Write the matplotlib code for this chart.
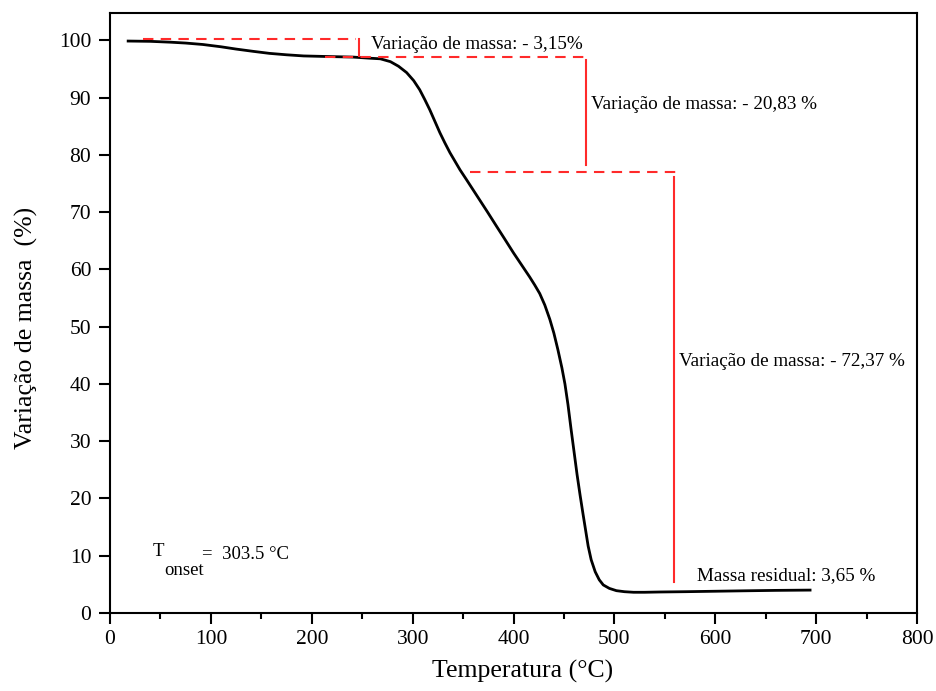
import numpy as np
import matplotlib
matplotlib.use('Agg')
import matplotlib.pyplot as plt

# TGA curve
temp = [18, 40, 60, 75, 92, 110, 125, 142, 158, 175, 192, 215, 241, 258, 268,
        278, 286, 294, 301, 307, 312, 317, 322, 327, 332, 337, 342, 347, 353,
        360, 367, 374, 383, 391, 400, 408, 416, 421, 426, 431, 436, 440, 444,
        448, 451, 454, 457, 460, 463, 466, 469, 472, 474, 477, 481, 485, 489,
        495, 502, 510, 519, 530, 545, 570, 600, 630, 660, 694]
mass = [99.9, 99.85, 99.7, 99.55, 99.3, 98.9, 98.5, 98.1, 97.75, 97.5, 97.3,
        97.2, 97.1, 96.9, 96.8, 96.3, 95.5, 94.4, 93.0, 91.4, 89.7, 87.9, 85.9,
        83.9, 82.1, 80.4, 78.9, 77.4, 75.8, 73.9, 72.0, 70.1, 67.6, 65.4, 62.9,
        60.8, 58.7, 57.3, 55.8, 53.8, 51.3, 48.9, 46.0, 42.8, 40.0, 36.4, 32.2,
        28.2, 24.2, 20.6, 17.2, 13.9, 11.7, 9.3, 7.2, 5.8, 4.9, 4.3, 3.9, 3.72,
        3.62, 3.62, 3.67, 3.72, 3.8, 3.88, 3.95, 4.0]

# step annotations: dashed levels and vertical bars
levels_x0 = [33, 213, 357]
levels_x1 = [244, 476, 565]
levels_y = [100.3, 97.2, 77.1]
bars_x = [247, 472, 559]
bars_lo = [97.3, 78.3, 5.4]
bars_hi = [100.3, 96.6, 76.2]
labels = ['Variação de massa: - 3,15%', 'Variação de massa: - 20,83 %',
          'Variação de massa: - 72,37 %', 'Massa residual: 3,65 %']
label_x = [259, 477, 564, 582]
label_y = [99.3, 88.8, 43.9, 6.6]

plt.rcParams['font.family'] = ['Liberation Serif', 'DejaVu Serif']

fig = plt.figure(figsize=(9.36, 6.91), dpi=100)
ax = fig.add_axes([110 / 936, 1 - 613 / 691, 807 / 936, 600 / 691])

ax.plot(temp, mass, color='black', lw=2.0)

red = '#ff2a2a'
for x0, x1, y in zip(levels_x0, levels_x1, levels_y):
    ax.plot([x0, x1], [y, y], color=red, lw=1.5, dashes=(5, 3.5))
for x, lo, hi in zip(bars_x, bars_lo, bars_hi):
    ax.plot([x, x], [lo, hi], color=red, lw=1.5)

for t, x, y in zip(labels, label_x, label_y):
    ax.text(x, y, t, fontsize=13.8, va='center', ha='left')

# T_onset label
ax.text(42, 10.8, 'T', fontsize=13.5, va='center', ha='left')
ax.text(54, 7.4, 'onset', fontsize=13.5, va='center', ha='left')
ax.text(91, 10.2, '=  303.5 °C', fontsize=13.5, va='center', ha='left')

ax.set_xlim(0, 800)
ax.set_ylim(0, 104.8)
ax.set_xticks(np.arange(0, 801, 100))
ax.set_xticks(np.arange(50, 800, 100), minor=True)
ax.set_yticks(np.arange(0, 101, 10))
ax.tick_params(axis='both', direction='out', length=8, width=1.5, labelsize=15.5)
ax.tick_params(axis='y', pad=5.5)
ax.tick_params(axis='x', pad=4.5)
ax.tick_params(axis='x', which='minor', direction='out', length=4.5, width=1.5)
for s in ax.spines.values():
    s.set_linewidth(1.5)

ax.set_xlabel('Temperatura (°C)', fontsize=18.5)
ax.set_ylabel('Variação de massa  (%)', fontsize=18.5)
ax.xaxis.set_label_coords(413 / 807, -47 / 600)
ax.yaxis.set_label_coords(-72 / 807, 285 / 600)

fig.savefig('out.png', dpi=100)
